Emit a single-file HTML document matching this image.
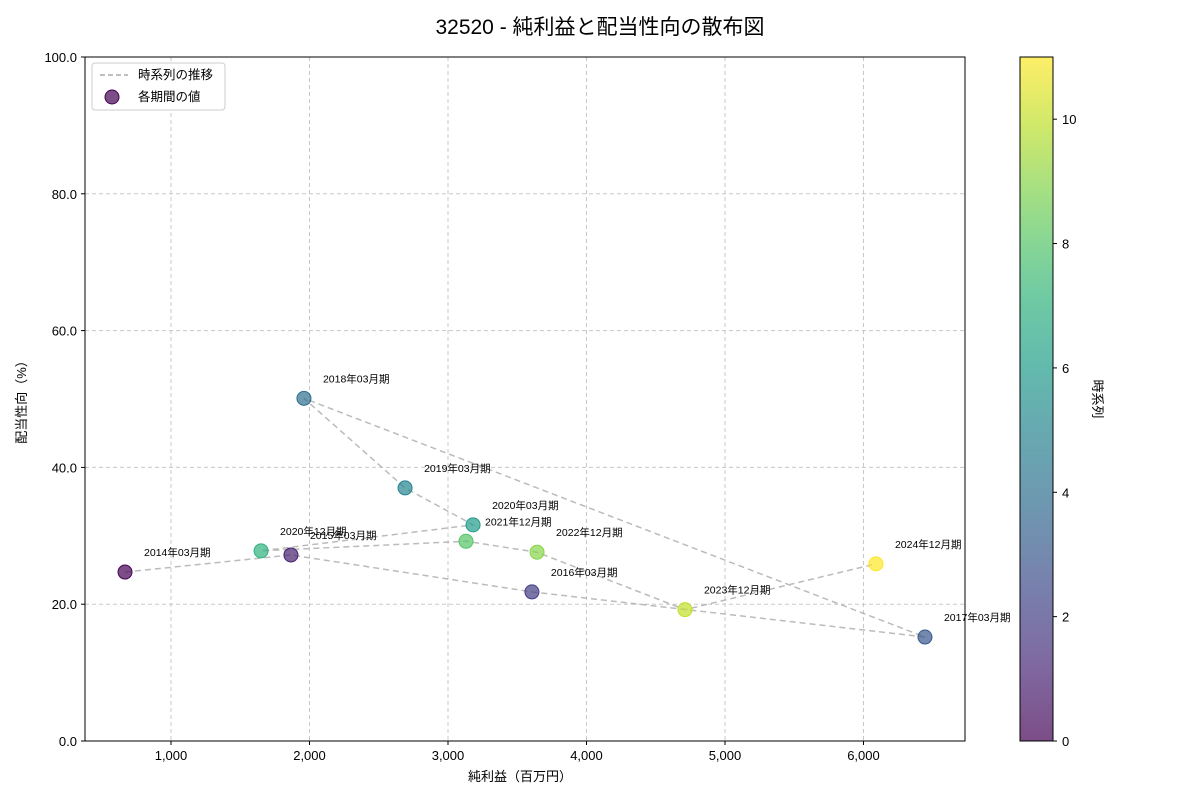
<!DOCTYPE html>
<html><head><meta charset="utf-8">
<style>
body{margin:0;background:#fff;font-family:"Liberation Sans","Noto Sans CJK JP",sans-serif;}
svg text{font-family:"Liberation Sans","Noto Sans CJK JP",sans-serif;}
</style></head>
<body>
<svg id="c" width="1200" height="800" xmlns="http://www.w3.org/2000/svg">
<text x="600" y="34" text-anchor="middle" font-size="21">32520 - 純利益と配当性向の散布図</text>
<g id="grid"></g>
<g id="axes"></g>
<g id="line"></g>
<g id="pts"></g>
<g id="cb"></g>
<g>
<rect x="92" y="63" width="133" height="47" fill="#fff" stroke="#ccc" rx="3"/>
<line x1="100" y1="75" x2="128" y2="75" stroke="#aaa" stroke-width="1.5" stroke-dasharray="5,3"/>
<text x="138" y="79" font-size="12.5">時系列の推移</text>
<circle cx="112" cy="97" r="7" fill="#440154" fill-opacity="0.7" stroke="#440154"/>
<text x="138" y="101" font-size="12.5">各期間の値</text>
</g>
<text x="520" y="781" text-anchor="middle" font-size="13">純利益（百万円）</text>
<text transform="translate(26,399) rotate(-90)" text-anchor="middle" font-size="13">配当性向（%）</text>
<text transform="translate(1093,399) rotate(90)" text-anchor="middle" font-size="13">時系列</text>
</svg>
<script>
const labels=["2014年03月期","2015年03月期","2016年03月期","2017年03月期","2018年03月期","2019年03月期","2020年03月期","2020年12月期","2021年12月期","2022年12月期","2023年12月期","2024年12月期"];
const netIncome=[668,1866,3606,6444,1960,2690,3181,1650,3130,3643,4711,6090];
const payoutRatio=[24.7,27.2,21.8,15.2,50.1,37.0,31.6,27.8,29.2,27.6,19.2,25.9];
const xTicks=[1000,2000,3000,4000,5000,6000];
const yTicks=[0,20,40,60,80,100];
const cbTicks=[0,2,4,6,8,10];
const NS="http://www.w3.org/2000/svg";
const L=85,R=965,T=57,B=741,xMin=379,xMax=6733,yMin=0,yMax=100;
const sx=v=>L+(v-xMin)/(xMax-xMin)*(R-L);
const sy=v=>B-(v-yMin)/(yMax-yMin)*(B-T);
const vir=["#440154","#482878","#3e4989","#31688e","#26828e","#1f9e89","#35b779","#6ece58","#b5de2b","#fde725"];
function viridis(t){t=Math.max(0,Math.min(1,t));const p=t*(vir.length-1),i=Math.min(Math.floor(p),vir.length-2),f=p-i;
const a=vir[i],b=vir[i+1];const c=k=>Math.round(parseInt(a.substr(k,2),16)*(1-f)+parseInt(b.substr(k,2),16)*f);
return `rgb(${c(1)},${c(3)},${c(5)})`;}
function mk(tag,attrs,parent,txt){const e=document.createElementNS(NS,tag);for(const k in attrs)e.setAttribute(k,attrs[k]);if(txt!=null)e.textContent=txt;parent.appendChild(e);return e;}
const grid=document.getElementById('grid'),axes=document.getElementById('axes');
xTicks.forEach(v=>{const x=sx(v);
const g=mk('line',{x1:x,x2:x,y1:T,y2:B,stroke:'#c8c8c8','stroke-dasharray':'4,3'},grid);


mk('line',{x1:x,x2:x,y1:B,y2:B+4,stroke:'#000'},axes);
const t=mk('text',{x:x,y:B+19,'text-anchor':'middle','font-size':13},axes,v.toLocaleString('en-US'));

});
yTicks.forEach(v=>{const y=sy(v);
const g=mk('line',{x1:L,x2:R,y1:y,y2:y,stroke:'#c8c8c8','stroke-dasharray':'4,3'},grid);


mk('line',{x1:L-4,x2:L,y1:y,y2:y,stroke:'#000'},axes);
const t=mk('text',{x:L-8,y:y+5,'text-anchor':'end','font-size':13},axes,v.toFixed(1));

});
mk('rect',{x:L,y:T,width:R-L,height:B-T,fill:'none',stroke:'#000'},axes);
const n=netIncome.length;
const pts=netIncome.map((v,i)=>sx(v)+','+sy(payoutRatio[i])).join(' ');
const pl=mk('polyline',{points:pts,fill:'none',stroke:'#aaa','stroke-width':1.5,'stroke-dasharray':'6,4','stroke-opacity':0.8},document.getElementById('line'));


const pg=document.getElementById('pts');
netIncome.forEach((v,i)=>{const x=sx(v),y=sy(payoutRatio[i]),col=viridis(i/(n-1));
const c=mk('circle',{cx:x,cy:y,r:7,fill:col,'fill-opacity':0.7,stroke:col},pg);


const t=mk('text',{x:x+19,y:y-16,'font-size':10.5},pg,labels[i]);

});
const cb=document.getElementById('cb');
const defs=mk('defs',{},cb);const gr=mk('linearGradient',{id:'vg',x1:0,y1:1,x2:0,y2:0},defs);
for(let i=0;i<=20;i++)mk('stop',{offset:i/20,'stop-color':viridis(i/20),'stop-opacity':0.7},gr);
mk('rect',{x:1020,y:T,width:33,height:B-T,fill:'url(#vg)',stroke:'#000'},cb);
cbTicks.forEach(v=>{const y=B-v/11*(B-T);
mk('line',{x1:1053,x2:1057,y1:y,y2:y,stroke:'#000'},cb);
const t=mk('text',{x:1062,y:y+5,'font-size':13},cb,String(v));

});
</script>
</body></html>
